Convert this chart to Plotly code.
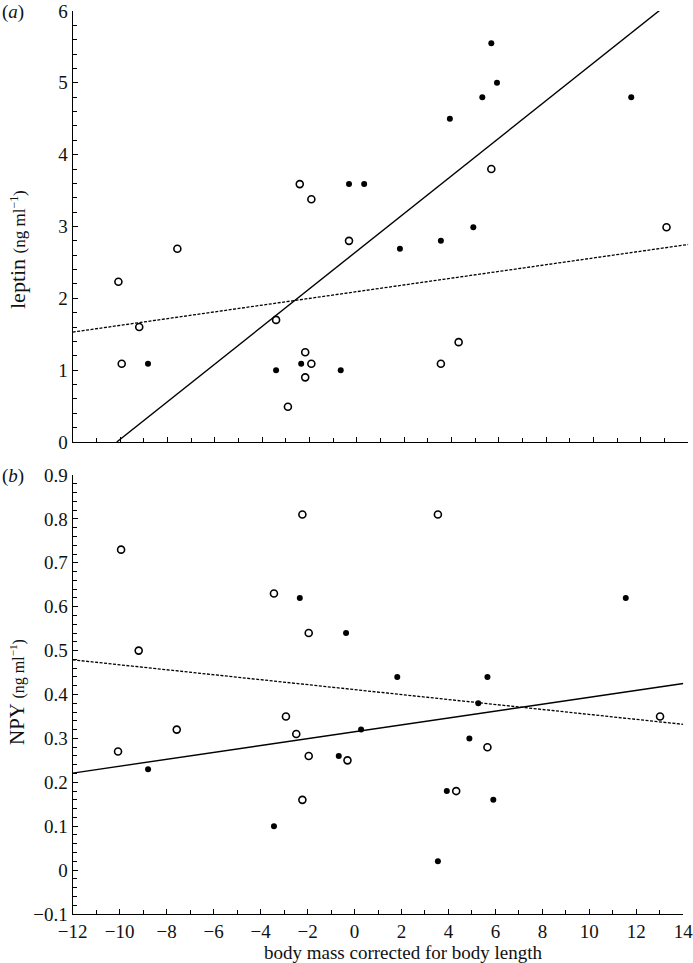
import plotly.graph_objects as go

# ---- data ----
# panel (a): leptin
open_a_x = [-10.07, -9.93, -9.19, -7.58, -3.41, -2.41, -1.92, -2.18, -1.92, -2.18, -2.91, -0.33, 5.68, 13.08, 4.30, 3.55]
open_a_y = [2.23, 1.09, 1.60, 2.69, 1.70, 3.59, 3.38, 1.25, 1.09, 0.90, 0.49, 2.80, 3.80, 2.99, 1.39, 1.09]
filled_a_x = [-8.82, -3.41, -2.35, -0.68, -0.33, 0.31, 5.68, 5.92, 5.30, 3.93, 11.59, 4.92, 3.55, 1.82]
filled_a_y = [1.09, 1.00, 1.09, 1.00, 3.59, 3.59, 5.55, 5.00, 4.80, 4.50, 4.80, 2.99, 2.80, 2.69]
fit_a_solid_x = [-10.14, 12.87]
fit_a_solid_y = [0.0, 6.03]
fit_a_dot_x = [-12, 14]
fit_a_dot_y = [1.53, 2.75]

# panel (b): NPY
open_b_x = [-9.94, -9.19, -10.07, -7.57, -3.43, -2.22, -1.95, -2.92, -2.48, -1.95, -2.22, -0.30, 3.55, 5.66, 4.33, 13.01]
open_b_y = [0.73, 0.50, 0.27, 0.32, 0.63, 0.81, 0.54, 0.35, 0.31, 0.26, 0.16, 0.25, 0.81, 0.28, 0.18, 0.35]
filled_b_x = [-8.79, -2.33, -3.43, -0.36, -0.67, 11.55, 1.82, 5.66, 5.27, 0.28, 4.89, 3.93, 5.91, 3.55]
filled_b_y = [0.23, 0.62, 0.10, 0.54, 0.26, 0.62, 0.44, 0.44, 0.38, 0.32, 0.30, 0.18, 0.16, 0.02]
fit_b_solid_x = [-12, 14]
fit_b_solid_y = [0.221, 0.425]
fit_b_dot_x = [-12, 14]
fit_b_dot_y = [0.479, 0.332]

x_ticks = [-12, -10, -8, -6, -4, -2, 0, 2, 4, 6, 8, 10, 12, 14]
ya_ticks = [0, 1, 2, 3, 4, 5, 6]
yb_ticks = [-0.1, 0, 0.1, 0.2, 0.3, 0.4, 0.5, 0.6, 0.7, 0.8, 0.9]

FONT = "Liberation Serif"
INK = "#111"
W, H = 693, 963

fig = go.Figure()

def add_panel(xa, ya, ox, oy, fx, fy, sx, sy, dx, dy):
    fig.add_trace(go.Scatter(x=sx, y=sy, mode="lines", xaxis=xa, yaxis=ya,
                             line=dict(color="black", width=1.4), showlegend=False))
    fig.add_trace(go.Scatter(x=dx, y=dy, mode="lines", xaxis=xa, yaxis=ya,
                             line=dict(color="black", width=1.3, dash="3px,1.5px"), showlegend=False))
    fig.add_trace(go.Scatter(x=ox, y=oy, mode="markers", xaxis=xa, yaxis=ya,
                             marker=dict(symbol="circle-open", size=7, color="black",
                                         line=dict(width=1.6, color="black")),
                             showlegend=False))
    fig.add_trace(go.Scatter(x=fx, y=fy, mode="markers", xaxis=xa, yaxis=ya,
                             marker=dict(symbol="circle", size=6, color="black"),
                             showlegend=False))

add_panel("x", "y", open_a_x, open_a_y, filled_a_x, filled_a_y,
          fit_a_solid_x, fit_a_solid_y, fit_a_dot_x, fit_a_dot_y)
add_panel("x2", "y2", open_b_x, open_b_y, filled_b_x, filled_b_y,
          fit_b_solid_x, fit_b_solid_y, fit_b_dot_x, fit_b_dot_y)

def px(v):
    return v / W

def py(v):
    return 1 - v / H

minor_style = dict(ticks="inside", ticklen=4, tickcolor="black", tickwidth=1.1)
axis_common = dict(showline=True, linecolor="black", linewidth=1.3, showgrid=False,
                   zeroline=False, ticks="inside", ticklen=5, tickwidth=1.1, tickcolor="black",
                   ticklabeloverflow="allow", automargin=False,
                   tickfont=dict(family=FONT, size=19, color=INK))

fig.update_layout(
    width=W, height=H,
    margin=dict(l=0, r=0, t=0, b=0, autoexpand=False),
    paper_bgcolor="white", plot_bgcolor="white",
    font=dict(family=FONT, color=INK),
    xaxis=dict(axis_common, domain=[px(72.7), px(688.3)], range=[-12, 14],
               tickvals=x_ticks, showticklabels=False, anchor="y",
               minor=dict(minor_style, dtick=1, tick0=0)),
    yaxis=dict(axis_common, domain=[py(442), py(11)], range=[0, 6], tickvals=ya_ticks,
               anchor="x", minor=dict(minor_style, dtick=0.2, tick0=0)),
    xaxis2=dict(axis_common, domain=[px(72.7), px(683.3)], range=[-12, 14],
                tickvals=x_ticks, anchor="y2", minor=dict(minor_style, dtick=1, tick0=0)),
    yaxis2=dict(axis_common, domain=[py(914), py(475)], range=[-0.1, 0.9], tickvals=yb_ticks,
                ticktext=[("\u2212" + "0.1") if v < 0 else ("0" if v == 0 else f"{v:.1f}") for v in yb_ticks],
                anchor="x2", minor=dict(minor_style, dtick=0.02, tick0=0)),
)

annotations = [
    dict(text="(<i>a</i>)", x=px(0), y=py(12), xanchor="left", yanchor="middle",
         font=dict(family=FONT, size=19, color=INK)),
    dict(text="(<i>b</i>)", x=px(0), y=py(476), xanchor="left", yanchor="middle",
         font=dict(family=FONT, size=19, color=INK)),
    dict(text="leptin <span style='font-size:17px'>(ng ml<sup>\u22121</sup>)</span>",
         x=px(17), y=py(250), textangle=-90, xanchor="center", yanchor="middle",
         font=dict(family=FONT, size=22, color=INK)),
    dict(text="NPY <span style='font-size:16px'>(ng ml<sup>\u22121</sup>)</span>",
         x=px(17), y=py(692), textangle=-90, xanchor="center", yanchor="middle",
         font=dict(family=FONT, size=21, color=INK)),
    dict(text="body mass corrected for body length", x=px(404), y=py(952),
         xanchor="center", yanchor="middle",
         font=dict(family=FONT, size=19, color=INK)),
]
for a in annotations:
    a.update(xref="paper", yref="paper", showarrow=False)
fig.update_layout(annotations=annotations)

fig.write_html("out.html", config={"displayModeBar": False},
               post_script="document.body.style.margin='0';document.body.style.padding='0';")
